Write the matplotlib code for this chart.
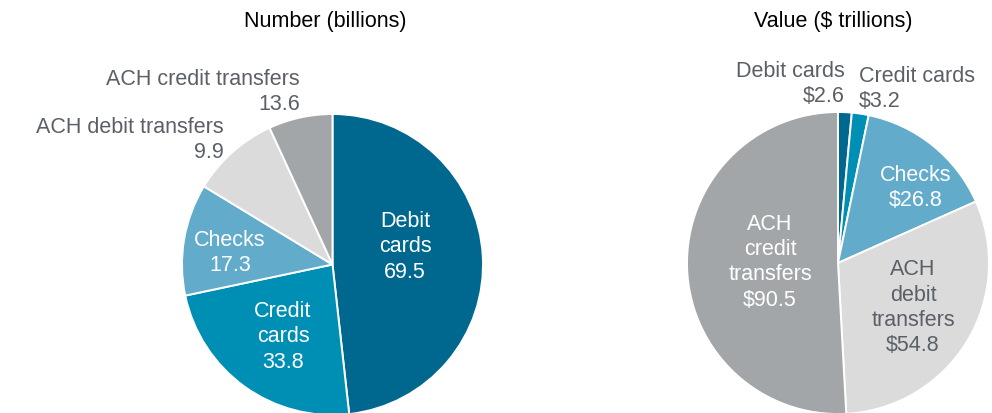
import matplotlib.pyplot as plt

# data (wedge order, clockwise from 12 o'clock)
categories = ["Debit cards", "Credit cards", "Checks", "ACH debit transfers", "ACH credit transfers"]
number_billions = [69.5, 33.8, 17.3, 13.6, 9.9]      # wedge sizes as drawn
number_printed = [69.5, 33.8, 17.3, 9.9, 13.6]       # values as printed next to the wedges
value_trillions = [2.6, 3.2, 26.8, 54.8, 90.5]

colors = ["#00688f", "#008fb4", "#63abca", "#dbdbdb", "#a3a6a9"]
label_gray = "#5b5f67"

plt.rcParams['font.family'] = ['Liberation Sans', 'DejaVu Sans']

W, H = 992, 414
fig = plt.figure(figsize=(W / 100, H / 100), dpi=100)


def pie_axes(cx, cy, r):
    # cx, cy, r in pixels (y from top)
    return fig.add_axes([(cx - r) / W, (H - cy - r) / H, 2 * r / W, 2 * r / H])


def draw_pie(ax, values):
    ax.pie(values, colors=colors, startangle=90, counterclock=False,
           wedgeprops=dict(edgecolor="white", linewidth=1.4))
    ax.set_xlim(-1, 1)
    ax.set_ylim(-1, 1)
    ax.axis('off')


fs = 15.5
ls = 1.27


def label(ax, x, y, s, color, ha="center"):
    ax.text(x, y, s, color=color, ha=ha, va="center", multialignment=ha,
            fontsize=fs, linespacing=ls)


# left pie: number
ax1 = pie_axes(332.5, 265.5, 150.5)
draw_pie(ax1, number_billions)
label(ax1, 0.482, 0.123, "Debit\ncards\n%.1f" % number_printed[0], "white")
label(ax1, -0.329, -0.475, "Credit\ncards\n%.1f" % number_printed[1], "white")
label(ax1, -0.681, 0.083, "Checks\n%.1f" % number_printed[2], "white")
label(ax1, -0.721, 0.834, "ACH debit transfers\n%.1f" % number_printed[3], label_gray, ha="right")
label(ax1, -0.216, 1.153, "ACH credit transfers\n%.1f" % number_printed[4], label_gray, ha="right")

# right pie: value
ax2 = pie_axes(838, 264, 151)
draw_pie(ax2, value_trillions)
label(ax2, 0.046, 1.192, "Debit cards\n$%.1f" % value_trillions[0], label_gray, ha="right")
label(ax2, 0.139, 1.159, "Credit cards\n$%.1f" % value_trillions[1], label_gray, ha="left")
label(ax2, 0.517, 0.503, "Checks\n$%.1f" % value_trillions[2], "white")
label(ax2, 0.497, -0.291, "ACH\ndebit\ntransfers\n$%.1f" % value_trillions[3], label_gray)
label(ax2, -0.450, 0.013, "ACH\ncredit\ntransfers\n$%.1f" % value_trillions[4], "white")

# titles
fig.text(325 / W, 1 - 22 / H, "Number (billions)", ha="center", va="center", fontsize=fs, color="black")
fig.text(833 / W, 1 - 22 / H, "Value ($ trillions)", ha="center", va="center", fontsize=fs, color="black")

fig.savefig("out.png", dpi=100)
